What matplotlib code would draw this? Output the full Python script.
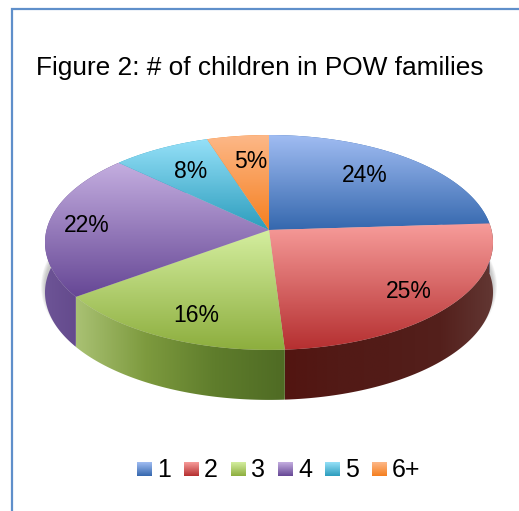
import matplotlib
matplotlib.use('Agg')
import matplotlib.pyplot as plt
from matplotlib.colors import LinearSegmentedColormap
from matplotlib.patches import Polygon
import numpy as np

plt.rcParams['font.family'] = ['Liberation Sans', 'DejaVu Sans']

# ── Data ───────────────────────────────────────────────────────────────────────
CATEGORIES = ['1', '2', '3', '4', '5', '6+']
PERCENTS   = [24, 25, 16, 22, 8, 5]
TITLE      = 'Figure 2: # of children in POW families'

# ── Styles ─────────────────────────────────────────────────────────────────────
TOP_COLORS  = [('#a0bcf2', '#3568ae'), ('#f79c9a', '#b52f30'), ('#d4ee9f', '#8dae3e'),
               ('#c4aee0', '#664795'), ('#95e0f8', '#2c9dbd'), ('#fdb888', '#f57f1f')]
WALL_COLORS = [('#3568ae', '#3568ae'), ('#521511', '#521a16', '#521c18', '#54201c', '#623733'),
               ('#a9c173', '#7d9a3e', '#5f7d2c', '#4f6b24'),
               ('#6d5496', '#583d80'), ('#2c9dbd', '#2c9dbd'), ('#f57f1f', '#f57f1f')]
FRAME_COLOR = '#5f8fca'

# pixel layout of the tilted pie (simple projective squash of a circle)
CX, CY = 269, 230
RX, RY = 222.5, 106
PERSP  = 0.116
DEPTH  = 50
LABEL_XY = [(365, 176), (409, 292), (196, 316), (87, 226), (191, 171), (251, 162)]


def project(frac):
    # frac runs clockwise from 12 o'clock, 1.0 = full turn
    a = 2 * np.pi * np.asarray(frac)
    x, y = np.sin(a), np.cos(a)
    d = 1 + PERSP * y
    return CX + RX * x / d, CY - RY * y / d


def gradient(ax, poly, stops, vertical=True, zorder=2):
    xs, ys = poly[:, 0], poly[:, 1]
    cmap = LinearSegmentedColormap.from_list('g', list(stops))
    ramp = np.linspace(0, 1, 128)
    ramp = ramp[:, None] if vertical else ramp[None, :]
    im = ax.imshow(ramp, cmap=cmap, vmin=0, vmax=1, aspect='auto', zorder=zorder,
                   extent=(xs.min(), xs.max(), ys.max(), ys.min()),
                   interpolation='bilinear')
    clip = Polygon(poly, closed=True, transform=ax.transData, fc='none', ec='none')
    ax.add_patch(clip)
    im.set_clip_path(clip)


fig = plt.figure(figsize=(5.19, 5.11), dpi=100)
ax = fig.add_axes([0, 0, 1, 1])

edges = np.cumsum([0] + PERCENTS) / sum(PERCENTS)

# soft shadow under the pie
ts = np.linspace(0, 1, 240)
rim_x, rim_y = project(ts)
for grow in np.linspace(4, 0, 8):
    sx = CX + (rim_x - CX) * (1 + grow / 224)
    sy = 243 + DEPTH - 6 + (rim_y - 243) * (1 + grow / 110)
    ax.add_patch(Polygon(np.column_stack([sx, sy]), closed=True, fc='#666666',
                         ec='none', alpha=0.05, zorder=1))

# side walls first, tops cover the back part
for i in range(len(PERCENTS)):
    t = np.linspace(edges[i], edges[i + 1], 80)
    x, y = project(t)
    wall = np.vstack([np.column_stack([x, y]),
                      np.column_stack([x[::-1], y[::-1] + DEPTH])])
    gradient(ax, wall, WALL_COLORS[i], vertical=False, zorder=2 + i * 0.01)

# top faces
for i in range(len(PERCENTS)):
    t = np.linspace(edges[i], edges[i + 1], 80)
    x, y = project(t)
    top = np.vstack([[CX, CY], np.column_stack([x, y])])
    gradient(ax, top, TOP_COLORS[i], zorder=3 + i * 0.01)

for (lx, ly), pct in zip(LABEL_XY, PERCENTS):
    ax.text(lx, ly, f'{pct}%', fontsize=16.5, color='black', ha='center', va='center',
            zorder=5)

ax.text(36, 68, TITLE, fontsize=18.9, color='black', ha='left', va='center', zorder=5)

# legend
for i, cat in enumerate(CATEGORIES):
    x0 = 137 + i * 47
    square = np.array([[x0, 462], [x0 + 14.5, 462], [x0 + 14.5, 476], [x0, 476]])
    gradient(ax, square, TOP_COLORS[i], zorder=3)
    ax.text(x0 + 20, 470, cat, fontsize=18, color='black', ha='left', va='center',
            zorder=5)

# frame, only top and left edges are inside the crop
ax.plot([12, 12, 519], [511, 9.5, 9.5], color=FRAME_COLOR, lw=1.6, zorder=6,
        solid_joinstyle='miter')

ax.set_xlim(0, 519)
ax.set_ylim(511, 0)
ax.axis('off')
fig.savefig('out.png', dpi=100)
